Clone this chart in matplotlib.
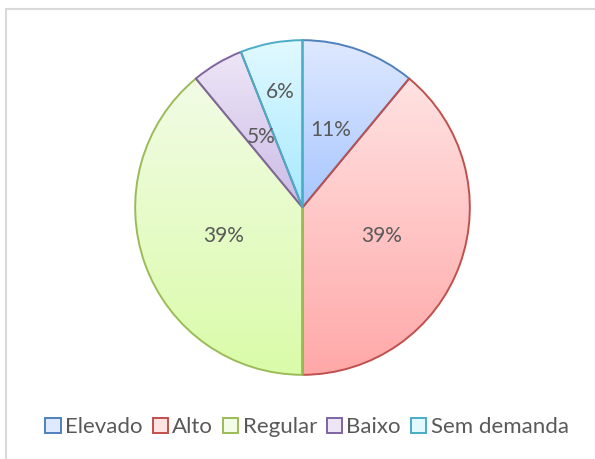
import numpy as np
import matplotlib
matplotlib.use("Agg")
import matplotlib.pyplot as plt
from matplotlib.patches import Patch, Rectangle
from matplotlib.colors import to_rgb

categories = ["Elevado", "Alto", "Regular", "Baixo", "Sem demanda"]
values = [11, 39, 39, 5, 6]
labels = ["11%", "39%", "39%", "5%", "6%"]

edge_colors = ["#4F81BD", "#C0504D", "#9BBB59", "#8064A2", "#4BACC6"]
top_colors = ["#DFE9FF", "#FFE2E2", "#F2FCE6", "#EEE6F7", "#E2F9FF"]
bottom_colors = ["#A8C6FF", "#FFA8A8", "#DAFBA8", "#CBBBE6", "#A6E9FF"]
label_dist = [0.49, 0.5, 0.5, 0.49, 0.70]

W, H = 595, 459
fig = plt.figure(figsize=(W / 100, H / 100), dpi=100)
fig.patch.set_facecolor("white")

# chart frame (top and left visible)
fig.patches.append(Rectangle((6 / W, -0.1), 1.2, 1 - 9 / H + 0.1, transform=fig.transFigure,
                             facecolor="none", edgecolor="#D9D9D9", linewidth=1.5))

cx, cy, r = 302.5, 207.5, 169
ax = fig.add_axes([(cx - r) / W, (H - cy - r) / H, 2 * r / W, 2 * r / H])
wedges, _ = ax.pie(values, startangle=90, counterclock=False, radius=1,
                   wedgeprops=dict(facecolor="none", linewidth=1.4))

for i, w in enumerate(wedges):
    w.set_edgecolor(edge_colors[i])
    w.set_zorder(3)
    ext = w.get_path().get_extents()
    t = np.linspace(0, 1, 256)[:, None]
    c0 = np.array(to_rgb(bottom_colors[i]))
    c1 = np.array(to_rgb(top_colors[i]))
    grad = (c0[None, None, :] * (1 - t[:, :, None]) + c1[None, None, :] * t[:, :, None])
    grad = np.repeat(grad, 2, axis=1)
    im = ax.imshow(grad, extent=[ext.x0, ext.x1, ext.y0, ext.y1], origin="lower",
                   aspect="auto", zorder=2, interpolation="bilinear")
    im.set_clip_path(w)
    ang = np.deg2rad((w.theta1 + w.theta2) / 2)
    d = label_dist[i]
    ax.text(d * np.cos(ang), d * np.sin(ang), labels[i], ha="center", va="center",
            fontsize=15, color="#595959", family="Lato", zorder=5)

ax.set_xlim(-1.01, 1.01)
ax.set_ylim(-1.01, 1.01)
ax.set_aspect("auto")
ax.axis("off")

handles = [Patch(facecolor=top_colors[i], edgecolor=edge_colors[i], linewidth=1.4, label=categories[i])
           for i in range(len(categories))]
leg = fig.legend(handles=handles, loc="center", bbox_to_anchor=(307 / W, 1 - 427 / H), ncol=5,
                 frameon=False, fontsize=16, handlelength=0.68, handleheight=0.68,
                 handletextpad=0.2, columnspacing=0.45, borderpad=0)
for txt in leg.get_texts():
    txt.set_color("#595959")
    txt.set_family("Lato")

fig.savefig("out.png", dpi=100)
